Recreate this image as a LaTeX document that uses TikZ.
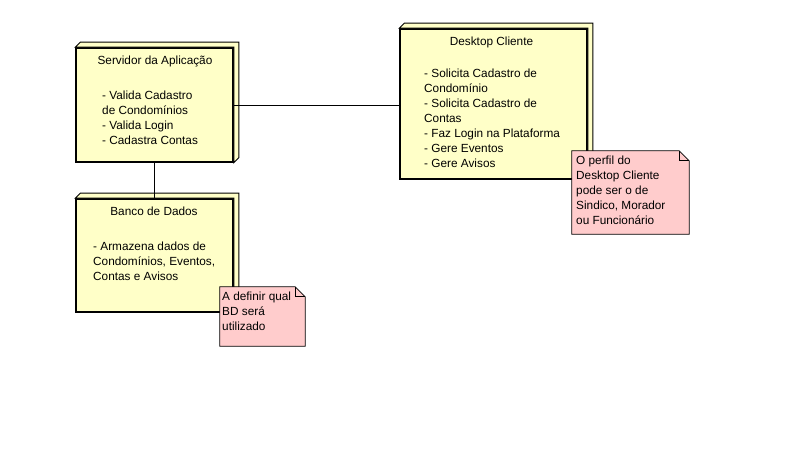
\documentclass[tikz,border=0pt]{standalone}
\usepackage{fontspec}
\setmainfont{Liberation Sans}
\usetikzlibrary{positioning,calc}

\definecolor{nodeyellow}{RGB}{255,255,200}
\definecolor{notepink}{RGB}{255,204,204}

\tikzset{
  devnode/.style={draw, line width=1.5pt, fill=nodeyellow, inner sep=0pt},
  devnote/.style={inner sep=0pt},
  lbl/.style={inner sep=0pt, font=\fontsize{11.8}{15}\selectfont, align=left},
  wire/.style={line width=0.8pt},
}
% depth strip of a deployment node
\newcommand{\nodedepth}[1]{%
  \draw[fill=nodeyellow, line width=1pt] (#1.north west) -- ++(5,-5)
    -- ($(#1.north east)+(5,-5)$) -- ($(#1.south east)+(5,-5)$)
    -- (#1.south east) -- (#1.north east) -- cycle;}
% note with folded corner
\newcommand{\notefold}[1]{%
  \draw[fill=notepink, line width=0.7pt] (#1.north west) -- ($(#1.north east)+(-10,0)$)
    -- ($(#1.north east)+(0,10)$) -- (#1.south east) -- (#1.south west) -- cycle;
  \draw[line width=0.7pt] ($(#1.north east)+(-10,0)$) |- ($(#1.north east)+(0,10)$);}

\begin{document}
\begin{tikzpicture}[x=1pt,y=-1pt]
    \fill[white] (0,0) rectangle (794,462);
    \useasboundingbox (0,0) rectangle (794,462);

    % Servidor
    \node[devnode, minimum width=157pt, minimum height=114pt] (servidor) at (154.5,105) {};
    \nodedepth{servidor}
    \node[lbl, anchor=base] (servidorT) at (155,65) {Servidor da Aplicação};
    \node[lbl, anchor=north west] (servidorB) at (102,91)
        {- Valida Cadastro\\ de Condomínios\\- Valida Login\\- Cadastra Contas};

    % Banco de dados
    \node[devnode, minimum width=157pt, minimum height=113pt] (banco) at (154.5,255.5) {};
    \nodedepth{banco}
    \node[lbl, anchor=base] (bancoT) at (154,216) {Banco de Dados};
    \node[lbl, anchor=north west] (bancoB) at (93,242)
        {- Armazena dados de\\Condomínios, Eventos,\\Contas e Avisos};

    % Desktop
    \node[devnode, minimum width=187pt, minimum height=150pt] (desktop) at (493.5,104) {};
    \nodedepth{desktop}
    \node[lbl, anchor=base] (desktopT) at (491.5,46) {Desktop Cliente};
    \node[lbl, anchor=north west] (desktopB) at (424,68.5)
        {- Solicita Cadastro de\\Condomínio\\- Solicita Cadastro de\\Contas\\- Faz Login na Plataforma\\- Gere Eventos\\- Gere Avisos};

    % Links
    \draw[wire] (servidor.east) -- (servidor.east -| desktop.west);
    \draw[wire] (servidor.south) -- (banco.north);

    % Notes
    \node[devnote, minimum width=117pt, minimum height=83pt] (perfil) at (630.5,192.5) {};
    \notefold{perfil}
    \node[lbl, anchor=north west] (perfilT) at (576,155.5)
        {O perfil do\\Desktop Cliente\\pode ser o de\\Sindico, Morador\\ou Funcionário};

    \node[devnote, minimum width=85pt, minimum height=59pt] (bd) at (262.5,316.5) {};
    \notefold{bd}
    \node[lbl, anchor=north west] (bdT) at (222,291.5)
        {A definir qual\\BD será\\utilizado};
\end{tikzpicture}
\end{document}
